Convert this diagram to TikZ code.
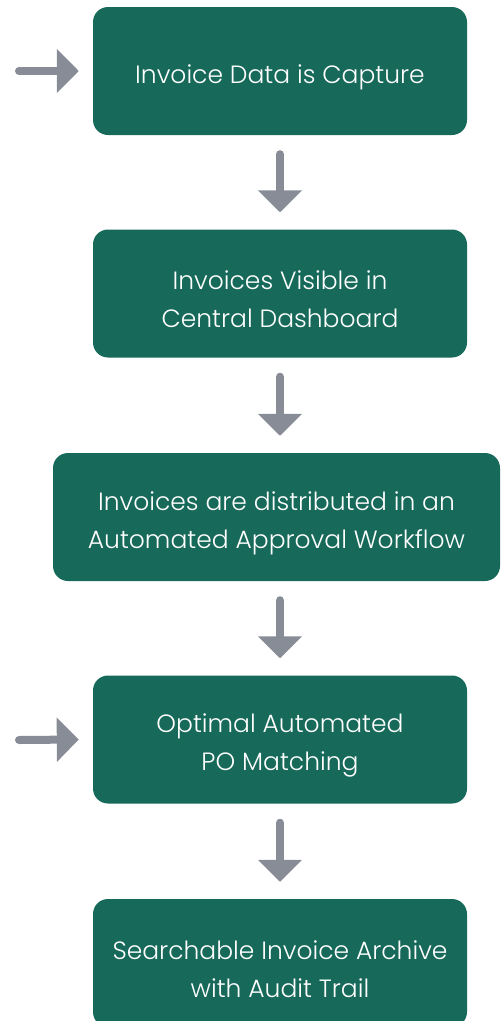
\documentclass[tikz,border=0pt]{standalone}
\usepackage{fontspec}
\setmainfont{Poppins}[UprightFont={* Light}]
\usetikzlibrary{arrows.meta}
\definecolor{boxgreen}{HTML}{17695A}
\definecolor{arrowgray}{HTML}{878C96}
\tikzset{
  steptext/.style={text=white, align=center, inner sep=0pt, yshift=-6pt,
    font=\fontsize{25}{38}\selectfont},
  stepbox/.style={fill=boxgreen, draw=none, rounded corners=15pt,
    minimum width=374pt, minimum height=128pt, inner sep=0pt,
    label={[steptext]center:#1}},
  flowarrow/.style={draw=arrowgray, line width=8pt, line cap=round,
    -{Triangle[length=22pt, width=43pt]}, color=arrowgray},
}
\begin{document}
\begin{tikzpicture}[x=1pt, y=-1pt]
\useasboundingbox (0,0) rectangle (501,1021);
\begin{scope}
\clip (0,0) rectangle (501,1021);
\node[stepbox={Invoice Data is Capture}] (b1) at (280,71) {};
\node[stepbox={Invoices Visible in\\Central Dashboard}] (b2) at (280,293.5) {};
\node[stepbox={Invoices are distributed in an\\Automated Approval Workflow}, minimum width=447pt] (b3) at (276.5,517) {};
\node[stepbox={Optimal Automated\\PO Matching}] (b4) at (280,739.5) {};
\node[stepbox={Searchable Invoice Archive\\with Audit Trail}] (b5) at (280,963) {};
\end{scope}
\coordinate (in1) at (19,71);
\coordinate (in2) at (19,740);
\draw[flowarrow] (in1) -- ([xshift=-14pt]b1.west);
\draw[flowarrow] (in2) -- ([xshift=-14pt]b4.west);
\draw[flowarrow] ([yshift=-19pt]b1.south) -- ([yshift=17pt]b2.north);
\draw[flowarrow] ([yshift=-19pt]b2.south) -- ([yshift=17pt]b2.south |- b3.north);
\draw[flowarrow] ([yshift=-19pt]b4.north |- b3.south) -- ([yshift=17pt]b4.north);
\draw[flowarrow] ([yshift=-19pt]b4.south) -- ([yshift=17pt]b5.north);
\end{tikzpicture}
\end{document}
